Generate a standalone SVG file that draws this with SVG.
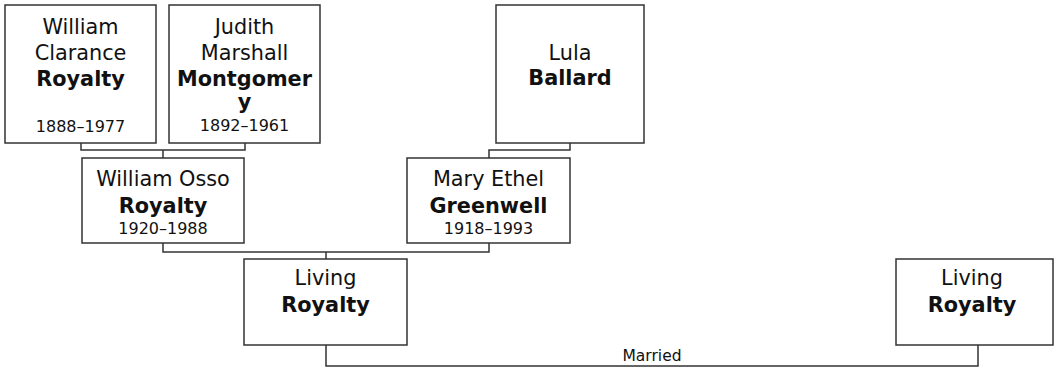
<svg xmlns="http://www.w3.org/2000/svg" width="1054" height="370" viewBox="0 0 1054 370">
<style>
.box{fill:#fff;stroke:#333;stroke-width:1.5}
.n{font-family:"DejaVu Sans",Verdana,sans-serif;font-size:20.8px;fill:#111;text-anchor:middle}
.b{font-weight:bold}
.d{font-family:"DejaVu Sans",Verdana,sans-serif;font-size:16px;fill:#111;text-anchor:middle}
.m{font-family:"DejaVu Sans",Verdana,sans-serif;font-size:15.5px;fill:#111;text-anchor:middle}
.c{fill:none;stroke:#333;stroke-width:1.5}
</style>
<g id="connectors">
<polyline class="c" points="81,143 81,150 245,150 245,143"/>
<polyline class="c" points="163,150 163,158"/>
<polyline class="c" points="570,143 570,150 489,150 489,158"/>
<polyline class="c" points="163,243 163,252 489,252 489,243"/>
<polyline class="c" points="326,252 326,259"/>
<polyline class="c" points="326,345 326,366 978,366 978,345"/>
<text class="m" x="652" y="361">Married</text>
</g>
<g id="william-clarance">
<rect class="box" x="5" y="5" width="151" height="138"/>
<text class="n" x="80.5" y="34">William</text>
<text class="n" x="80.5" y="60">Clarance</text>
<text class="n b" x="80.5" y="86">Royalty</text>
<text class="d" x="80.5" y="132">1888–1977</text>
</g>
<g id="judith-marshall">
<rect class="box" x="169" y="5" width="151" height="138"/>
<text class="n" x="244.5" y="34">Judith</text>
<text class="n" x="244.5" y="60">Marshall</text>
<text class="n b" x="244.5" y="86">Montgomer</text>
<text class="n b" x="244.5" y="109">y</text>
<text class="d" x="244.5" y="131">1892–1961</text>
</g>
<g id="lula-ballard">
<rect class="box" x="496" y="5" width="148" height="138"/>
<text class="n" x="570" y="60">Lula</text>
<text class="n b" x="570" y="85">Ballard</text>
</g>
<g id="william-osso">
<rect class="box" x="82" y="158" width="162" height="85"/>
<text class="n" x="163" y="186">William Osso</text>
<text class="n b" x="163" y="213">Royalty</text>
<text class="d" x="163" y="234">1920–1988</text>
</g>
<g id="mary-ethel">
<rect class="box" x="407" y="158" width="163" height="85"/>
<text class="n" x="488.5" y="186">Mary Ethel</text>
<text class="n b" x="488.5" y="213">Greenwell</text>
<text class="d" x="488.5" y="234">1918–1993</text>
</g>
<g id="living-1">
<rect class="box" x="244" y="259" width="163" height="86"/>
<text class="n" x="325.5" y="285">Living</text>
<text class="n b" x="325.5" y="312">Royalty</text>
</g>
<g id="living-2">
<rect class="box" x="896" y="259" width="157" height="86"/>
<text class="n" x="972" y="285">Living</text>
<text class="n b" x="972" y="312">Royalty</text>
</g>
</svg>
